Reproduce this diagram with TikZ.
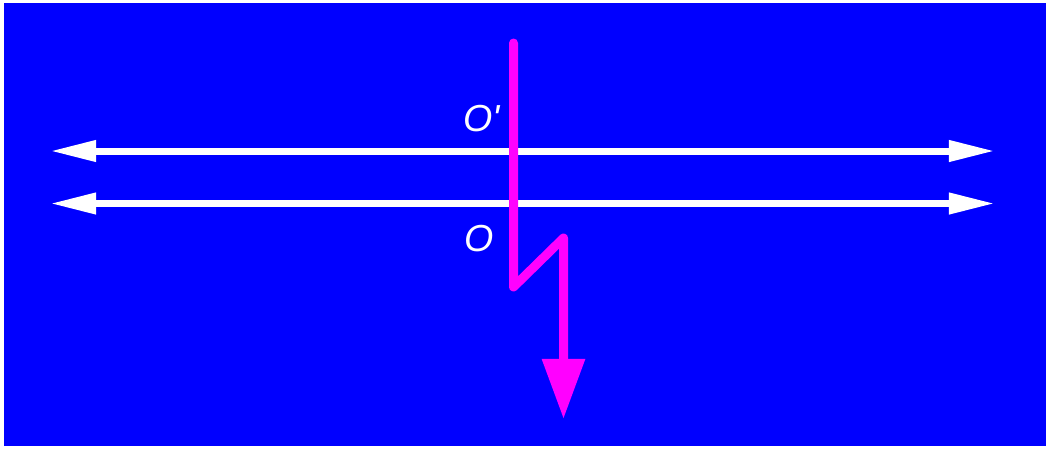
\documentclass[tikz,border=0pt]{standalone}
\usepackage{fontspec}
\setmainfont{Liberation Sans}
\usetikzlibrary{arrows.meta}
\definecolor{bgblue}{RGB}{0, 0, 255}
\definecolor{pathpink}{RGB}{255, 0, 255}

\begin{document}
\begin{tikzpicture}[
  x=0.01cm, y=-0.01cm,
  axis/.style={{Triangle[length=0.46cm, width=0.2cm]}-{Triangle[length=0.46cm, width=0.2cm]}, white, line width=0.07cm},
  ray/.style={-{Triangle[length=0.6cm, width=0.41cm]}, pathpink, line width=0.09cm, line cap=round, line join=round},
  lbl/.style={text=white, font=\fontsize{10.7}{12}\selectfont\itshape, inner sep=0pt, anchor=base west},
]
% Background
\useasboundingbox (0,0) rectangle (1046,448);
\fill[white] (0,0) rectangle (1046,448);
\fill[bgblue] (4,3) rectangle (1046,446);

% Axes
\coordinate (a1l) at (50,151);
\coordinate (a1r) at (995,151);
\coordinate (a2l) at (50,203.5);
\coordinate (a2r) at (995,203.5);
\draw[axis] (a1l) -- (a1r);
\draw[axis] (a2l) -- (a2r);

% Labels
\node[lbl] (oprime) at (463,131.5) {O\textquotesingle};
\node[lbl] (o) at (464,251.5) {O};

% Ray
\coordinate (start) at (513.5,43);
\coordinate (kink) at (513.5,287);
\coordinate (back) at (563.5,238);
\coordinate (end) at (563.5,419);
\draw[ray] (start) -- (kink) -- (back) -- (end);
\end{tikzpicture}
\end{document}
